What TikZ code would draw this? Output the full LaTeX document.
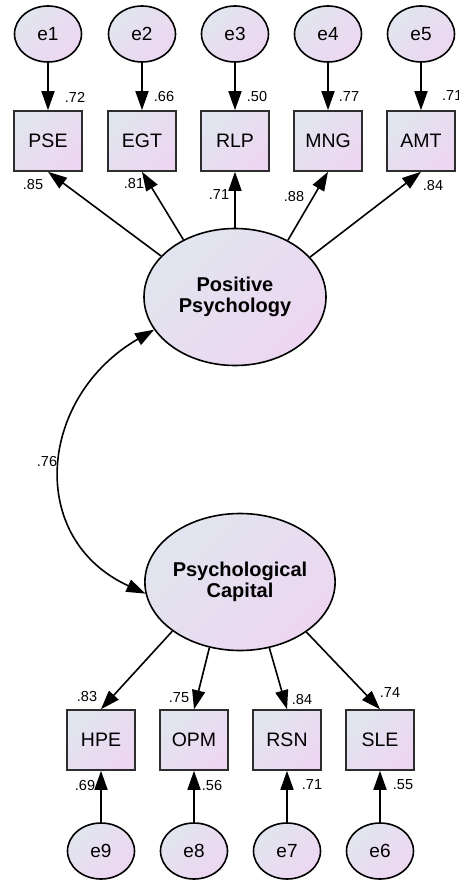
\documentclass[tikz,border=0pt]{standalone}
\usepackage{fontspec}
\setmainfont{Liberation Sans}
\usetikzlibrary{arrows.meta,shapes.geometric}
\definecolor{shadeA}{RGB}{225,229,239}
\definecolor{shadeB}{RGB}{237,214,241}
\definecolor{boxline}{RGB}{45,45,45}

\begin{document}
\begin{tikzpicture}[x=1pt,y=-1pt,
  softfill/.style={top color=shadeA, bottom color=shadeB, shading angle=45},
  errvar/.style={ellipse, draw=black, line width=1.6pt, softfill,
    minimum width=67pt, minimum height=56pt, inner sep=0pt,
    font=\fontsize{19}{21}\selectfont},
  obsvar/.style={rectangle, draw=boxline, line width=1.6pt, softfill,
    minimum width=68pt, minimum height=60pt, inner sep=0pt,
    font=\fontsize{19.5}{21}\selectfont},
  latvar/.style={ellipse, draw=black, line width=1.6pt, softfill,
    minimum width=182pt, minimum height=137pt, inner sep=0pt, align=center,
    font=\bfseries\fontsize{20}{21}\selectfont},
  coef/.style={inner sep=0pt, font=\fontsize{14.5}{16}\selectfont},
  regpath/.style={line width=1.6pt, -{Triangle[length=19pt,width=13pt]}},
  covpath/.style={line width=1.6pt,
    {Triangle[length=19pt,width=13pt]}-{Triangle[length=19pt,width=13pt]}},
]
\useasboundingbox (0,0) rectangle (458,882);
\fill[white] (0,0) rectangle (458,882);

% latent factors
\node[latvar] (pp) at (235,297) {Positive\\Psychology};
\node[latvar] (pc) at (240,582) {Psychological\\Capital};

% indicators of Positive Psychology
\node[obsvar] (pse) at (48,141) {PSE};
\node[obsvar] (egt) at (142,141) {EGT};
\node[obsvar] (rlp) at (235,141) {RLP};
\node[obsvar] (mng) at (328,141) {MNG};
\node[obsvar] (amt) at (421,141) {AMT};

% indicators of Psychological Capital
\node[obsvar] (hpe) at (101,740) {HPE};
\node[obsvar] (opm) at (194,740) {OPM};
\node[obsvar] (rsn) at (287,740) {RSN};
\node[obsvar] (sle) at (380,740) {SLE};

% error terms
\node[errvar] (e1) at (48,34) {e1};
\node[errvar] (e2) at (142,34) {e2};
\node[errvar] (e3) at (235,34) {e3};
\node[errvar] (e4) at (328,34) {e4};
\node[errvar] (e5) at (421,34) {e5};
\node[errvar] (e9) at (101,851) {e9};
\node[errvar] (e8) at (194,851) {e8};
\node[errvar] (e7) at (287,851) {e7};
\node[errvar] (e6) at (380,851) {e6};

% squared multiple correlations and loadings
\node[coef] (r1) at (75,97) {.72};
\node[coef] (r2) at (164,97) {.66};
\node[coef] (r3) at (257,97) {.50};
\node[coef] (r4) at (349,97) {.77};
\node[coef, anchor=west] (r5) at (442,96) {.71};
\node[coef] (l1) at (33,185) {.85};
\node[coef] (l2) at (134,184) {.81};
\node[coef] (l3) at (219,195) {.71};
\node[coef] (l4) at (294,197) {.88};
\node[coef] (l5) at (433,186) {.84};
\node[coef] (rho) at (47,462) {.76};
\node[coef] (l9) at (87,697) {.83};
\node[coef] (l8) at (179,698) {.75};
\node[coef] (l7) at (302,700) {.84};
\node[coef] (l6) at (390,693) {.74};
\node[coef] (r9) at (85,785) {.69};
\node[coef] (r8) at (212,785) {.56};
\node[coef] (r7) at (312,785) {.71};
\node[coef] (r6) at (403,785) {.55};

% error paths
\draw[regpath] (e1) -- (pse);
\draw[regpath] (e2) -- (egt);
\draw[regpath] (e3) -- (rlp);
\draw[regpath] (e4) -- (mng);
\draw[regpath] (e5) -- (amt);
\draw[regpath] (e9) -- (hpe);
\draw[regpath] (e8) -- (opm);
\draw[regpath] (e7) -- (rsn);
\draw[regpath] (e6) -- (sle);

% factor loadings
\draw[regpath] (pp.151.9) -- (pse.south);
\draw[regpath] (pp.132.9) -- (egt.south);
\draw[regpath] (pp.90) -- (rlp.south);
\draw[regpath] (pp.47.6) -- (mng.south);
\draw[regpath] (pp.28.1) -- (amt.south);
\draw[regpath] (pc.216.7) -- (hpe.north);
\draw[regpath] (pc.245.6) -- (opm.north);
\draw[regpath] (pc.294.4) -- (rsn.north);
\draw[regpath] (pc.323.3) -- (sle.north);

% factor covariance
\draw[covpath] (pp.202) .. controls (38,397) and (26,539) .. (pc.187);
\end{tikzpicture}
\end{document}
